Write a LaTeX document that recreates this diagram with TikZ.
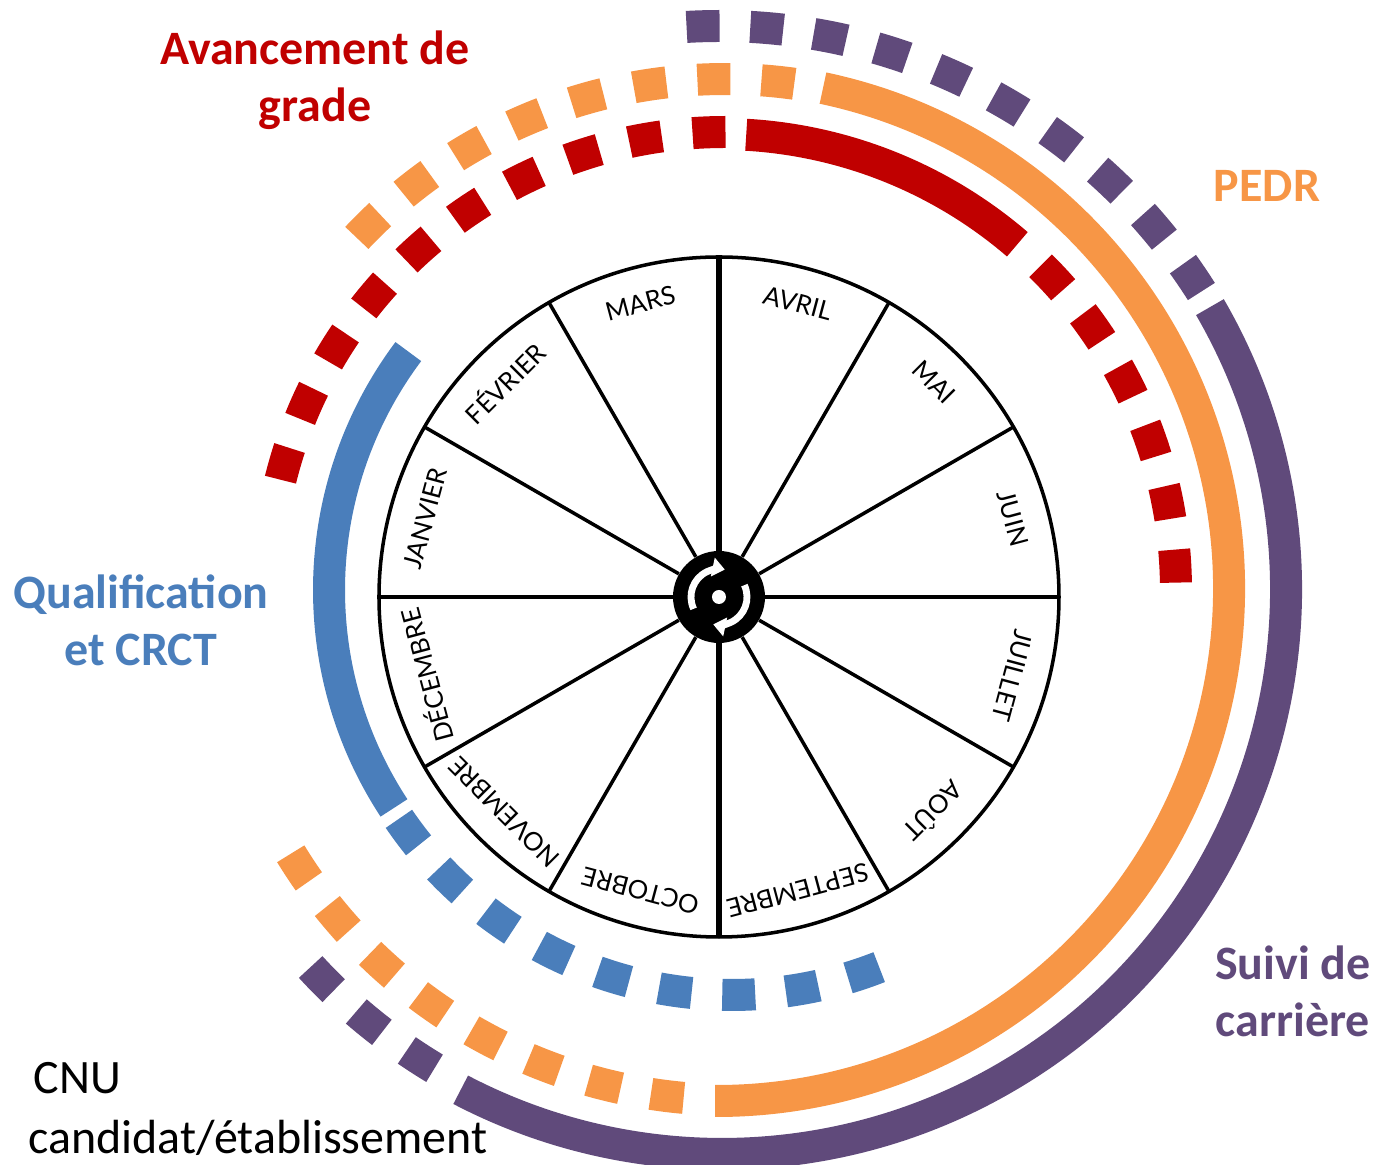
\documentclass[tikz,border=0pt]{standalone}
\usepackage{fontspec}
\setmainfont{Carlito}
\newfontfamily\monthfont{Lato}
\usetikzlibrary{arrows.meta}
\definecolor{redgrade}{HTML}{C00000}
\definecolor{orangepedr}{HTML}{F79646}
\definecolor{purplesuivi}{HTML}{604A7B}
\definecolor{bluequal}{HTML}{4A7EBB}
\tikzset{
  track/.style={line width=.64cm},
  bigtext/.style={font=\fontsize{27.3}{32.5}\selectfont\bfseries,align=center,inner sep=0pt},
  monthlabel/.style={font=\monthfont\fontsize{14.6}{15}\selectfont,inner sep=0pt},
  rimline/.style={line width=2pt},
  turn/.style={draw=white,line width=3.9pt,-{Triangle[length=7pt,width=10.5pt]}},
}
\newcommand{\ticks}[6]{%
  \foreach \k in {0,...,#6}{%
    \pgfmathsetmacro\a{#4+#5*\k}
    \pgfmathsetmacro\h{945/#3}
    \draw[track,#1] ([shift={#2}]\a-\h:#3) arc[start angle=\a-\h,end angle=\a+\h,radius=#3];
  }}
\begin{document}
\begin{tikzpicture}[x=.02cm,y=.02cm]
\useasboundingbox (-719,-568) rectangle (658,597);
% tracks
\ticks{redgrade}{(1,7)}{456}{3}{8.05}{5}
\ticks{redgrade}{(6,7)}{458}{92}{8}{9}
\draw[track,redgrade] ([shift={(1,7)}]86.7:456) arc[start angle=86.7,end angle=49.3,radius=456];
\ticks{orangepedr}{(6,12)}{506}{84}{7.26}{7}
\ticks{orangepedr}{(11,12)}{515}{263}{-7.1}{7}
\draw[track,orangepedr] ([shift={(-2,8)}]78.05:512) arc[start angle=78.05,end angle=-90.2,radius=512];
\ticks{purplesuivi}{(0,0)}{571}{34}{6.4}{9}
\ticks{purplesuivi}{(3,7)}{558}{237.3}{-6.55}{2}
\draw[track,purplesuivi] ([shift={(3,7)}]30.1:564) arc[start angle=30.1,end angle=-117.6,radius=564];
\ticks{bluequal}{(13,5)}{403}{216.6}{9.06}{8}
\draw[track,bluequal] ([shift={(8,7)}]143.2:398) arc[start angle=143.2,end angle=213.2,radius=398];
% wheel
\node[circle,fill=black,minimum size=1.84cm,inner sep=0pt] (hub) at (0,0) {};
\draw[rimline] (0,0) circle (340);
\foreach \a in {30,60,120,150,210,240,300,330}
  \draw[rimline] (hub) -- (\a:340);
\foreach \a in {0,180}
  \draw[line width=2.5pt] (hub) -- (\a:340);
\foreach \a in {90,270}
  \draw[line width=3.1pt] (hub) -- (\a:340);
\fill[white] (0,0) circle (7);
\draw[turn] (205:28) arc[start angle=205,end angle=78,radius=28];
\draw[turn] (25:28) arc[start angle=25,end angle=-102,radius=28];
% months
\foreach \n/\m/\a in {avril/AVRIL/75,mai/MAI/45,juin/JUIN/15,juillet/JUILLET/-15,
    aout/AOÛT/-45,septembre/SEPTEMBRE/-75,octobre/OCTOBRE/-105,novembre/NOVEMBRE/-135,
    decembre/DÉCEMBRE/-165,janvier/JANVIER/165,fevrier/FÉVRIER/135,mars/MARS/105}
  \node[monthlabel,rotate=\a-90] (\n) at (\a:304) {\m};
% labels
\node[bigtext,text=redgrade] (avancement) at (-404,517) {Avancement de\\grade};
\node[bigtext,text=orangepedr] (pedr) at (548,411) {PEDR};
\node[bigtext,text=bluequal] (qualification) at (-578,-23) {Qualification\\et CRCT};
\node[bigtext,text=purplesuivi] (suivi) at (574,-394) {Suivi de\\carrière};
\node[font=\fontsize{27.3}{34}\selectfont,align=left,anchor=north west,inner sep=0pt] (cnu) at (-691,-465) {\hspace*{3pt}CNU\\candidat/établissement};
\end{tikzpicture}
\end{document}
